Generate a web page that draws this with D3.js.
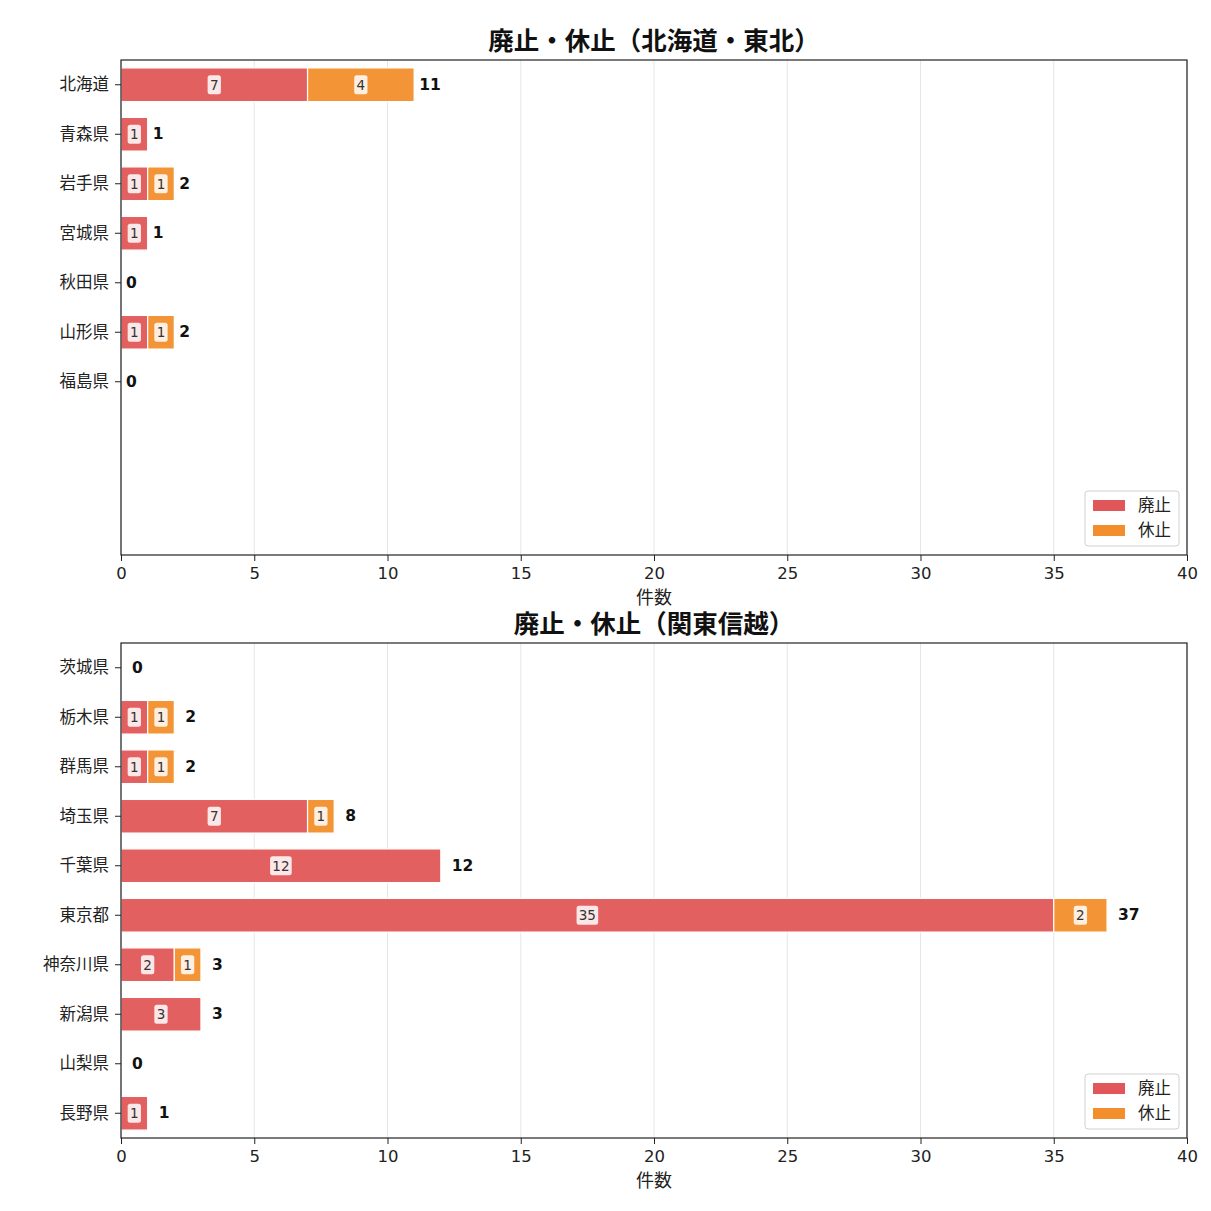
<!DOCTYPE html>
<html>
<head>
<meta charset="utf-8">
<script src="https://cdn.jsdelivr.net/npm/d3@7"></script>
<style>
  body { margin: 0; background: #fff; }
  text { font-family: "DejaVu Sans", "Noto Sans CJK JP", sans-serif; }
</style>
</head>
<body>
<script>
// data
var statusNames = ["廃止", "休止"];
var statusColors = ["#e15759", "#f28e2b"];
var xTicks = [0, 5, 10, 15, 20, 25, 30, 35, 40];

var northTitle = "廃止・休止（北海道・東北）";
var northPrefs = ["北海道", "青森県", "岩手県", "宮城県", "秋田県", "山形県", "福島県"];
var northAbolished = [7, 1, 1, 1, 0, 1, 0];
var northSuspended = [4, 0, 1, 0, 0, 1, 0];

var kantoTitle = "廃止・休止（関東信越）";
var kantoPrefs = ["茨城県", "栃木県", "群馬県", "埼玉県", "千葉県", "東京都", "神奈川県", "新潟県", "山梨県", "長野県"];
var kantoAbolished = [0, 1, 1, 7, 12, 35, 2, 3, 0, 1];
var kantoSuspended = [0, 1, 1, 1, 0, 2, 1, 0, 0, 0];

var W = 1211, H = 1211;
var svg = d3.select("body").append("svg")
    .attr("width", W)
    .attr("height", H);

function drawPanel(title, prefs, abolished, suspended, top, totalOffset) {
    var left = 121, right = 1187, height = 495;
    var bottom = top + height;
    var slots = 10;

    var x = d3.scaleLinear().domain([0, 40]).range([left, right]);
    var slotNames = d3.range(slots);
    var y = d3.scaleBand().domain(slotNames).range([top, bottom]).paddingInner(0.32).paddingOuter(0.16);

    var g = svg.append("g");

    // grid
    g.selectAll(".grid").data(xTicks).enter().append("line")
        .attr("x1", d => x(d)).attr("x2", d => x(d))
        .attr("y1", top).attr("y2", bottom)
        .attr("stroke", "#e6e6e6").attr("stroke-width", 1);

    var rows = prefs.map(function(p, i) {
        return { name: p, i: i, a: abolished[i], s: suspended[i] };
    });

    // segments
    rows.forEach(function(r) {
        var segs = [
            { v: r.a, x0: 0, c: statusColors[0] },
            { v: r.s, x0: r.a, c: statusColors[1] }
        ];
        segs.forEach(function(s) {
            if (s.v <= 0) return;
            g.append("rect")
                .attr("x", x(s.x0))
                .attr("y", y(r.i))
                .attr("width", x(s.x0 + s.v) - x(s.x0))
                .attr("height", y.bandwidth())
                .attr("fill", s.c)
                .attr("fill-opacity", 0.95)
                .attr("stroke", "#fff")
                .attr("stroke-width", 1.2);
            var cx = (x(s.x0) + x(s.x0 + s.v)) / 2;
            var cy = y(r.i) + y.bandwidth() / 2;
            var lbl = String(s.v);
            var bw = lbl.length * 8.3 + 5;
            g.append("rect")
                .attr("x", cx - bw / 2).attr("y", cy - 9.5)
                .attr("width", bw).attr("height", 19)
                .attr("rx", 2.5)
                .attr("fill", "#fff").attr("fill-opacity", 0.85);
            g.append("text")
                .attr("x", cx).attr("y", cy)
                .attr("text-anchor", "middle")
                .attr("dominant-baseline", "central")
                .attr("font-size", 13.5)
                .attr("fill", "#333")
                .text(lbl);
        });
        // total
        g.append("text")
            .attr("x", x(r.a + r.s) + totalOffset)
            .attr("y", y(r.i) + y.bandwidth() / 2)
            .attr("dominant-baseline", "central")
            .attr("font-size", 15.5)
            .attr("font-weight", "bold")
            .attr("fill", "#111")
            .text(r.a + r.s);
    });

    // frame
    g.append("rect")
        .attr("x", left).attr("y", top)
        .attr("width", right - left).attr("height", height)
        .attr("fill", "none").attr("stroke", "#222").attr("stroke-width", 1.2);

    // x axis
    var xAxis = g.append("g")
        .attr("transform", "translate(0," + bottom + ")")
        .call(d3.axisBottom(x).tickValues(xTicks).tickSize(6).tickPadding(6));
    xAxis.select(".domain").remove();
    xAxis.selectAll("line").attr("stroke", "#222");
    xAxis.selectAll("text").attr("font-size", 16.5).attr("fill", "#222")
        .style("font-family", "'DejaVu Sans', sans-serif");

    // y axis
    rows.forEach(function(r) {
        var cy = y(r.i) + y.bandwidth() / 2;
        g.append("line")
            .attr("x1", left - 6).attr("x2", left)
            .attr("y1", cy).attr("y2", cy)
            .attr("stroke", "#222");
        g.append("text")
            .attr("x", left - 12).attr("y", cy)
            .attr("text-anchor", "end")
            .attr("dominant-baseline", "central")
            .attr("font-size", 16.5)
            .attr("fill", "#222")
            .text(r.name);
    });

    // title and label
    g.append("text")
        .attr("x", (left + right) / 2).attr("y", top - 19)
        .attr("text-anchor", "middle")
        .attr("dominant-baseline", "central")
        .attr("font-size", 25.5)
        .attr("font-weight", "bold")
        .attr("fill", "#111")
        .text(title);
    g.append("text")
        .attr("x", (left + right) / 2).attr("y", bottom + 42)
        .attr("text-anchor", "middle")
        .attr("dominant-baseline", "central")
        .attr("font-size", 18)
        .attr("fill", "#222")
        .text("件数");

    // legend
    var lg = g.append("g").attr("transform", "translate(1085," + (bottom - 64) + ")");
    lg.append("rect")
        .attr("width", 94).attr("height", 55).attr("rx", 3)
        .attr("fill", "#fff").attr("fill-opacity", 0.85)
        .attr("stroke", "#d0d0d0");
    statusNames.forEach(function(n, i) {
        lg.append("rect")
            .attr("x", 8).attr("y", 9 + i * 25)
            .attr("width", 32).attr("height", 11)
            .attr("fill", statusColors[i]);
        lg.append("text")
            .attr("x", 53).attr("y", 14.5 + i * 25)
            .attr("dominant-baseline", "central")
            .attr("font-size", 16.5)
            .attr("fill", "#222")
            .text(n);
    });
}

drawPanel(northTitle, northPrefs, northAbolished, northSuspended, 60, 5);
drawPanel(kantoTitle, kantoPrefs, kantoAbolished, kantoSuspended, 643, 11);
</script>
</body>
</html>
